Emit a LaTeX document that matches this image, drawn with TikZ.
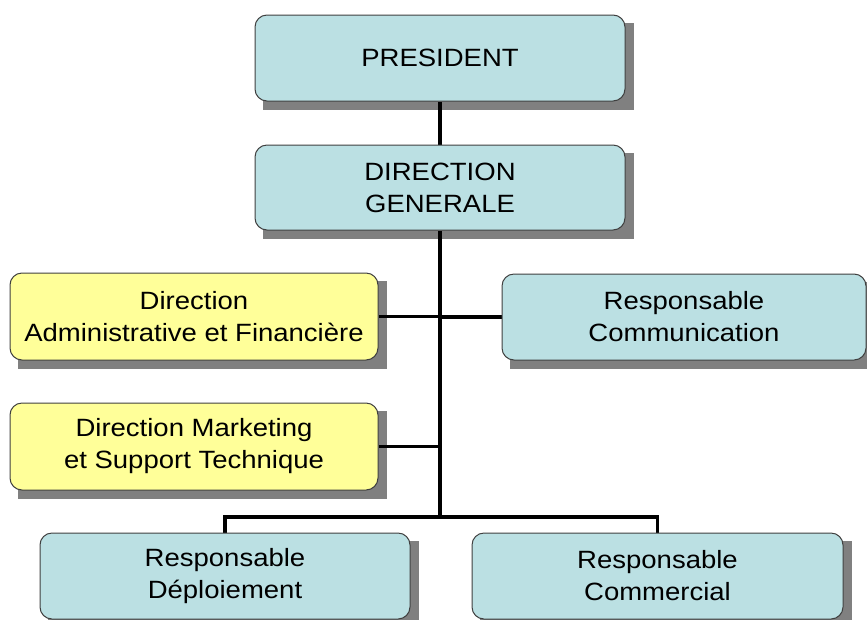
\documentclass[tikz,border=0pt]{standalone}
\usepackage{fontspec}
\setmainfont[FakeStretch=1.1]{Liberation Sans}
\usetikzlibrary{backgrounds}
\definecolor{boxteal}{HTML}{BBE0E3}
\definecolor{boxyellow}{HTML}{FFFF99}
\definecolor{shadowgray}{HTML}{808080}
\definecolor{boxborder}{HTML}{404040}
\tikzset{
  orgbox/.style={draw=boxborder, line width=1pt, rounded corners=12pt, align=center,
    minimum height=86pt, inner sep=0pt, font=\fontsize{25}{32}\selectfont},
  tealbox/.style={orgbox, fill=boxteal},
  yellowbox/.style={orgbox, fill=boxyellow},
  link/.style={line width=3.4pt, black},
  shadowfill/.style={fill=shadowgray}
}
\newcommand{\boxshadow}[1]{\fill[shadowfill] ([shift={(8pt,-8pt)}]#1.south west) rectangle ([shift={(8pt,-8pt)}]#1.north east);}
\begin{document}
\begin{tikzpicture}[x=1pt,y=-1pt]
\useasboundingbox (0,0) rectangle (867,619);
\node[tealbox, minimum width=370pt] (pres) at (440,58) {PRESIDENT};
\node[tealbox, minimum width=370pt, minimum height=85pt] (dg) at (440,187.5) {DIRECTION\\GENERALE};
\node[yellowbox, minimum width=368pt, minimum height=87pt] (daf) at (194,316.5) {Direction\\Administrative et Financière};
\node[yellowbox, minimum width=368pt, minimum height=87pt] (dmst) at (194,446.5) {Direction Marketing\\et Support Technique};
\node[tealbox, minimum width=364pt] (rc) at (684,317) {Responsable\\Communication};
\node[tealbox, minimum width=370pt] (rd) at (225,576) {Responsable\\Déploiement};
\node[tealbox, minimum width=371pt] (rcom) at (657.5,576) {Responsable\\Commercial};
\coordinate (bus) at (440,517);
\begin{scope}[on background layer]
\boxshadow{pres}
\boxshadow{dg}
\boxshadow{daf}
\boxshadow{dmst}
\boxshadow{rc}
\boxshadow{rd}
\boxshadow{rcom}
\draw[link] (pres.south) -- (dg.north);
\draw[link] (dg.south) -- (bus);
\draw[link] (daf.east) -- (daf.east -| bus);
\draw[link] (dmst.east) -- (dmst.east -| bus);
\draw[link] (rc.west) -- (rc.west -| bus);
\draw[link] (rd.north) -- (rd.north |- bus) -- (rcom.north |- bus) -- (rcom.north);
\end{scope}
\end{tikzpicture}
\end{document}
